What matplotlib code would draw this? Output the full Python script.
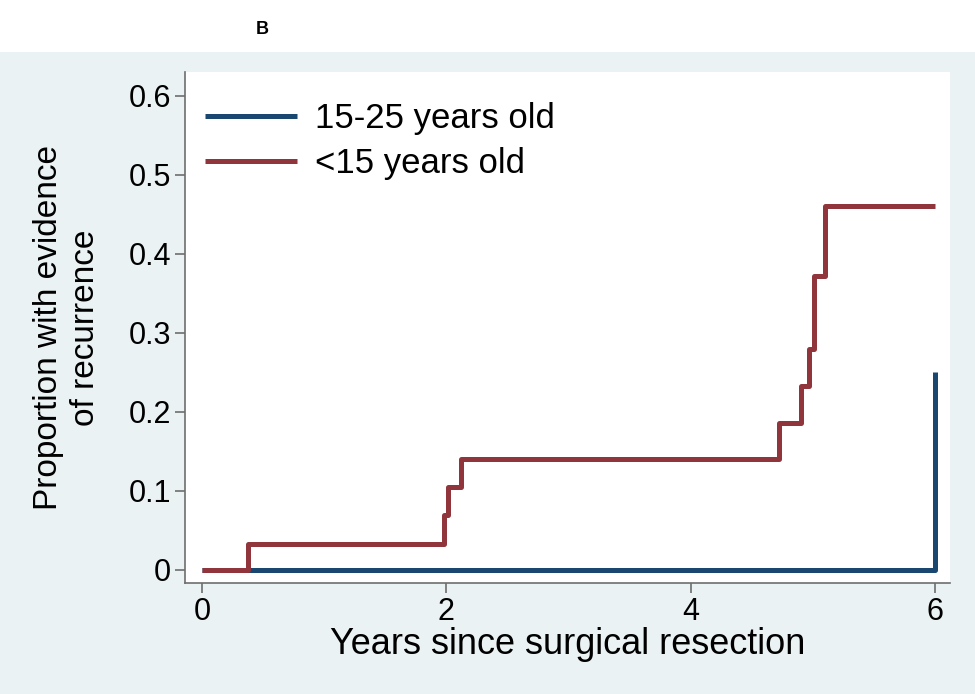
import matplotlib
matplotlib.use("Agg")
import matplotlib.pyplot as plt
from matplotlib.patches import Rectangle

plt.rcParams['font.family'] = ['Liberation Sans', 'DejaVu Sans']

# Kaplan-Meier failure estimates
timeYoung = [0, 0.38, 1.98, 2.01, 2.12, 4.72, 4.90, 4.97, 5.01, 5.10, 6.0]
propYoung = [0, 0.0333, 0.0698, 0.105, 0.140, 0.186, 0.233, 0.280, 0.372, 0.461, 0.461]

timeOlder = [0, 6.0, 6.0]
propOlder = [0, 0, 0.25]

xTicks = [0, 2, 4, 6]
yTicks = [0, 0.1, 0.2, 0.3, 0.4, 0.5, 0.6]
yTickLabels = ["0", "0.1", "0.2", "0.3", "0.4", "0.5", "0.6"]

navy = "#1a476f"
maroon = "#90353b"
grey = "#6e6e6e"

fig = plt.figure(figsize=(9.75, 6.94), dpi=100, facecolor="white")
fig.patches.append(Rectangle((0, 0), 1, 0.925, transform=fig.transFigure,
                             facecolor="#eaf2f3", edgecolor="none", zorder=-10))

ax = fig.add_axes([0.1897, 0.16, 0.7846, 0.7363])
ax.set_facecolor("white")

ax.plot(timeOlder, propOlder, color=navy, lw=3.6, drawstyle="steps-post",
        solid_capstyle="butt", label="15-25 years old")
ax.plot(timeYoung, propYoung, color=maroon, lw=3.6, drawstyle="steps-post",
        solid_capstyle="butt", label="<15 years old")

ax.set_xlim(-0.139, 6.12)
ax.set_ylim(-0.0165, 0.630)
ax.set_xticks(xTicks)
ax.set_yticks(yTicks)
ax.set_yticklabels(yTickLabels)

for side in ["top", "right"]:
    ax.spines[side].set_visible(False)
for side in ["left", "bottom"]:
    ax.spines[side].set_color(grey)
    ax.spines[side].set_linewidth(1.2)

ax.tick_params(axis="both", labelsize=22, color=grey, length=7, width=1.2,
               direction="out", pad=3)

ax.set_xlabel("Years since surgical resection", fontsize=26, labelpad=0)
ax.set_ylabel("Proportion with evidence\nof recurrence", fontsize=24,
              linespacing=1.25)
ax.yaxis.set_label_coords(-0.110, 0.5)

ax.legend(loc="upper left", frameon=False, fontsize=25, handlelength=2.65,
          handletextpad=0.52, labelspacing=0.33, borderaxespad=0,
          borderpad=0.4, bbox_to_anchor=(0.008, 0.968))

fig.text(262 / 975, 1 - 30 / 694, "B", fontsize=13, fontweight="bold",
         ha="center", va="center")

fig.savefig("out.png", dpi=100, facecolor=fig.get_facecolor())
